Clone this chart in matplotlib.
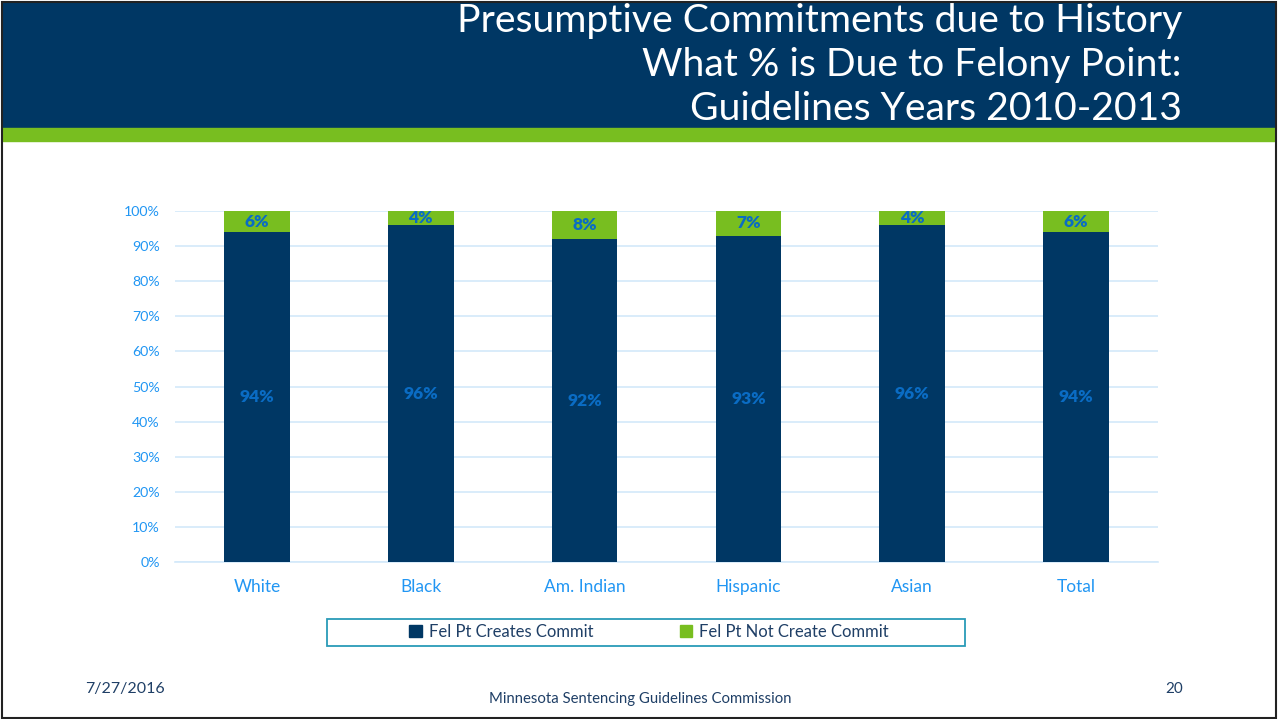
import numpy as np
import matplotlib
matplotlib.use('Agg')
import matplotlib.pyplot as plt
from matplotlib.patches import Rectangle, Patch
from matplotlib.ticker import FuncFormatter

# Chart data
categories = ['White', 'Black', 'Am. Indian', 'Hispanic', 'Asian', 'Total']
creates_commit = [94, 96, 92, 93, 96, 94]
not_create_commit = [6, 4, 8, 7, 4, 6]
series_names = ['Fel Pt Creates Commit', 'Fel Pt Not Create Commit']

title_lines = ['Presumptive Commitments due to History',
               'What % is Due to Felony Point:',
               'Guidelines Years 2010-2013']

NAVY = '#003764'
GREEN = '#78BE20'
TICK_BLUE = '#2196F3'
LABEL_BLUE = '#0A6CC4'
GRID = '#D3E9FA'
FOOT = '#1F3F66'

plt.rcParams['font.family'] = ['Lato', 'DejaVu Sans']

W, H = 1279, 719
fig = plt.figure(figsize=(W / 100, H / 100), dpi=100)


def fx(px):
    return px / W


def fy(py):
    return 1 - py / H


# Slide header band and green stripe
fig.patches.append(Rectangle((fx(2), fy(128)), fx(1275) - fx(2), fy(3) - fy(128),
                             transform=fig.transFigure, color=NAVY, zorder=0))
fig.patches.append(Rectangle((fx(2), fy(141)), fx(1275) - fx(2), fy(128) - fy(141),
                             transform=fig.transFigure, color=GREEN, zorder=0))
# Slide border
fig.patches.append(Rectangle((fx(1.5), fy(717.5)), fx(1276) - fx(1.5), fy(1.5) - fy(717.5),
                             transform=fig.transFigure, fill=False, edgecolor='#222222',
                             linewidth=1.5, zorder=5))

for i, line in enumerate(title_lines):
    fig.text(fx(1182), fy(21 + i * 44), line, ha='right', va='center',
             color='white', fontsize=28.2)

# Chart axes
ax = fig.add_axes([fx(175), fy(562), fx(1158) - fx(175), fy(211) - fy(562)])
x = np.arange(len(categories))
bw = 0.4
ax.bar(x, creates_commit, bw, color=NAVY, label=series_names[0], zorder=3)
ax.bar(x, not_create_commit, bw, bottom=creates_commit, color=GREEN,
       label=series_names[1], zorder=3)

for xi, a, b in zip(x, creates_commit, not_create_commit):
    ax.text(xi, a / 2, f'{a}%', ha='center', va='center', color=LABEL_BLUE,
            fontsize=12.5, fontweight='heavy', zorder=4)
    ax.text(xi, a + b / 2, f'{b}%', ha='center', va='center', color=LABEL_BLUE,
            fontsize=12.5, fontweight='heavy', zorder=4)

ax.set_xlim(-0.5, len(categories) - 0.5)
ax.set_ylim(0, 100)
ax.set_yticks(np.arange(0, 101, 10))
ax.yaxis.set_major_formatter(FuncFormatter(lambda v, p: f'{int(v)}%'))
ax.set_xticks(x)
ax.set_xticklabels(categories)
ax.tick_params(axis='y', length=0, pad=11, labelcolor=TICK_BLUE, labelsize=10.2)
ax.tick_params(axis='x', length=0, pad=12, labelcolor=TICK_BLUE, labelsize=12.5)
ax.grid(axis='y', color=GRID, linewidth=1.2, zorder=0)
for s in ['top', 'right', 'left']:
    ax.spines[s].set_visible(False)
ax.spines['bottom'].set_color(GRID)
ax.spines['bottom'].set_linewidth(1.2)

# Legend box
fig.patches.append(Rectangle((fx(327), fy(646)), fx(965) - fx(327), fy(619) - fy(646),
                             transform=fig.transFigure, fill=False, edgecolor='#2A9BB8',
                             linewidth=1.3))
handles = [Patch(color=NAVY), Patch(color=GREEN)]
leg = fig.legend(handles, series_names, loc='center', bbox_to_anchor=(fx(649), fy(632)),
                 ncol=2, frameon=False, fontsize=12, handlelength=0.75, handleheight=0.75,
                 handletextpad=0.4, columnspacing=5.2)
for t in leg.get_texts():
    t.set_color(FOOT)

# Footer
fig.text(fx(85), fy(689), '7/27/2016', ha='left', va='center', color=FOOT, fontsize=11.5)
fig.text(fx(640), fy(699), 'Minnesota Sentencing Guidelines Commission', ha='center',
         va='center', color=FOOT, fontsize=10.7)
fig.text(fx(1183), fy(689), '20', ha='right', va='center', color=FOOT, fontsize=11)

fig.savefig('out.png', dpi=100)
